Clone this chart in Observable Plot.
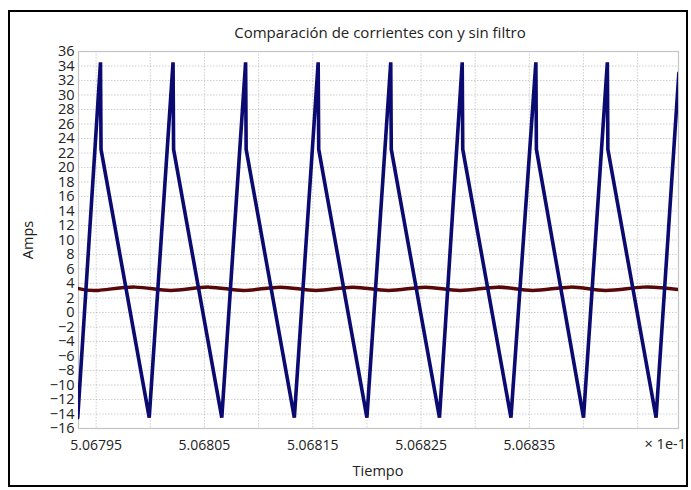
<!DOCTYPE html>
<html><head><meta charset="utf-8">
<script src="https://cdn.jsdelivr.net/npm/d3@7"></script>
<script src="https://cdn.jsdelivr.net/npm/@observablehq/plot@0.6"></script>
<style>body{margin:0;background:#fff;} svg{font-family:"Open Sans",sans-serif;}</style>
</head><body><div id="chart"></div>
<script>
// Corriente sin filtro (azul)
const tiempoAzul = [
  5.067933, 5.067954, 5.0679545,
  5.067999, 5.068021, 5.0680215,
  5.068066, 5.068088, 5.0680885,
  5.068133, 5.068155, 5.0681555,
  5.068200, 5.068222, 5.0682225,
  5.068267, 5.068288, 5.0682885,
  5.068333, 5.068356, 5.0683565,
  5.068400, 5.068422, 5.0684225,
  5.068467, 5.068488
];
const corrienteAzul = [
  -14.5, 34.5, 22.5,
  -14.5, 34.5, 22.5,
  -14.5, 34.5, 22.5,
  -14.5, 34.5, 22.5,
  -14.5, 34.5, 22.5,
  -14.5, 34.5, 22.5,
  -14.5, 34.5, 22.5,
  -14.5, 34.5, 22.5,
  -14.5, 33.0
];
// Corriente con filtro (rojo)
const tiempoRojo = [
  5.067934, 5.067952, 5.067986, 5.068019, 5.068054, 5.068086, 5.068120,
  5.068153, 5.068187, 5.068220, 5.068254, 5.068286, 5.068321, 5.068353,
  5.068388, 5.068420, 5.068455, 5.068488
];
const corrienteRojo = [
  3.3, 3.05, 3.5, 3.05, 3.5, 3.05, 3.5,
  3.05, 3.5, 3.05, 3.5, 3.05, 3.5, 3.05,
  3.5, 3.05, 3.5, 3.15
];
const ticksY = [-16,-14,-12,-10,-8,-6,-4,-2,0,2,4,6,8,10,12,14,16,18,20,22,24,26,28,30,32,34,36];
const ticksX = [5.06795, 5.06805, 5.06815, 5.06825, 5.06835];
const gridX = [5.06795, 5.068, 5.06805, 5.0681, 5.06815, 5.0682, 5.06825, 5.0683, 5.06835, 5.0684, 5.06845];
const titulo = "Comparación de corrientes con y sin filtro";
const etiquetaX = "Tiempo";
const etiquetaY = "Amps";
const escalaX = "× 1e-1";

const svgEl = Plot.plot({
  width: 691, height: 490,
  marginLeft: 78, marginRight: 13, marginTop: 51, marginBottom: 62,
  style: {fontFamily: "Open Sans, sans-serif", fontSize: "14px", color: "#222", background: "#fff"},
  x: {domain: [5.0679337, 5.0684877], label: null},
  y: {domain: [-16, 36], label: null},
  marks: [
    Plot.gridY(ticksY, {stroke: "#888", strokeOpacity: 0.4, strokeDasharray: "1.5,1.5"}),
    Plot.gridX(gridX, {stroke: "#888", strokeOpacity: 0.4, strokeDasharray: "1.5,1.5"}),
    Plot.frame({stroke: "#c4c4c4", strokeWidth: 1.2}),
    Plot.axisY(ticksY, {tickSize: 0, tickPadding: 4, fontSize: 14.5, label: null, fill: "#222"}),
    Plot.axisX(ticksX, {tickSize: 0, tickPadding: 12, fontSize: 14, label: null, fill: "#222", tickFormat: d => d.toFixed(5)}),
    Plot.line(corrienteRojo, {x: tiempoRojo, y: corrienteRojo, curve: "natural", stroke: "#580808", strokeWidth: 3.5, clip: true}),
    Plot.line(corrienteAzul, {x: tiempoAzul, y: corrienteAzul, stroke: "#0a0a70", strokeWidth: 3.6, strokeLinejoin: "miter", clip: true})
  ]
});

const svg = d3.select(svgEl);
svg.append("rect").attr("x", 9).attr("y", 11).attr("width", 678).attr("height", 475)
  .attr("fill", "none").attr("stroke", "#000").attr("stroke-width", 2);
svg.append("text").attr("x", 380).attr("y", 38).attr("text-anchor", "middle")
  .attr("font-size", 15).attr("fill", "#222").text(titulo);
svg.append("text").attr("x", 378).attr("y", 476).attr("text-anchor", "middle")
  .attr("font-size", 14.5).attr("fill", "#222").text(etiquetaX);
svg.append("text").attr("transform", "translate(33,240) rotate(-90)").attr("text-anchor", "middle")
  .attr("font-size", 14.5).attr("fill", "#222").text(etiquetaY);
svg.append("text").attr("x", 686).attr("y", 449).attr("text-anchor", "end")
  .attr("font-size", 14.5).attr("fill", "#222").text(escalaX);

document.getElementById("chart").appendChild(svgEl);
</script>
</body></html>
